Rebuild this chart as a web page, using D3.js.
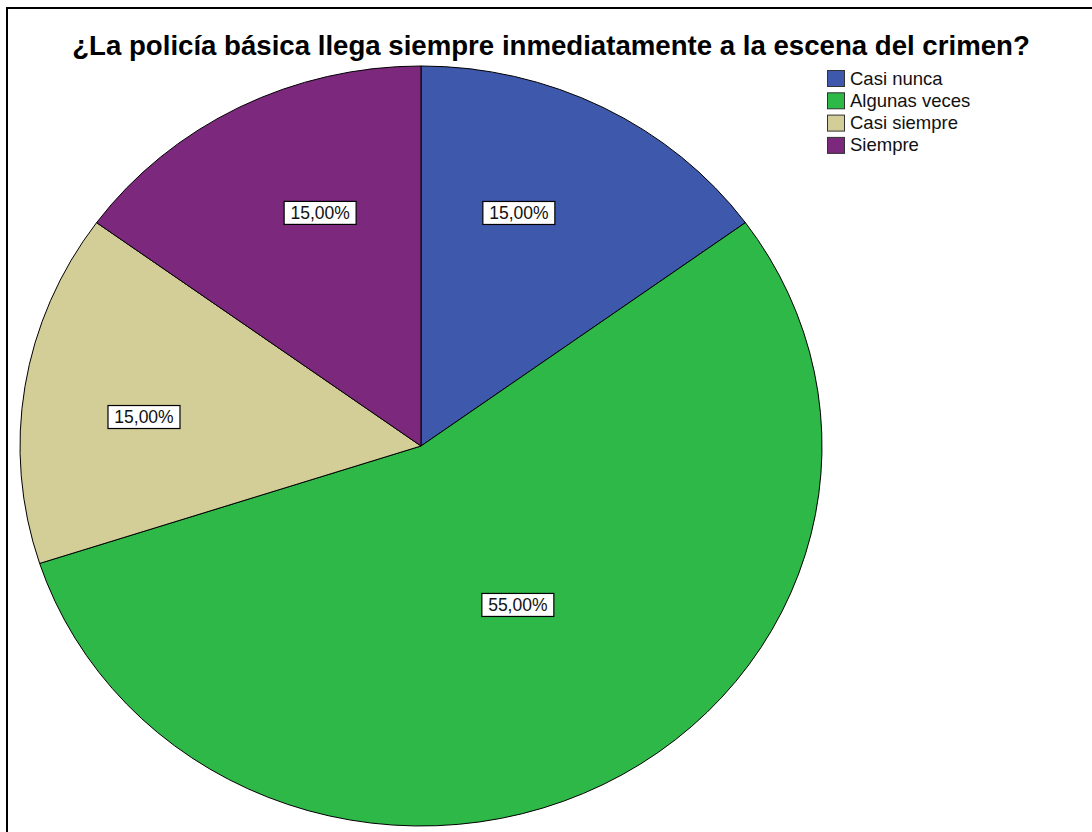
<!DOCTYPE html>
<html><head><meta charset="utf-8">
<script src="https://cdn.jsdelivr.net/npm/d3@7"></script>
<style>body{margin:0;background:#fff;} svg{display:block;}</style>
</head><body>
<svg id="chart" width="1092" height="832"></svg>
<script>
const title = "¿La policía básica llega siempre inmediatamente a la escena del crimen?";
const categories = ["Casi nunca", "Algunas veces", "Casi siempre", "Siempre"];
const values = [15, 55, 15, 15];
const labels = ["15,00%", "55,00%", "15,00%", "15,00%"];
const colors = ["#3E58AC", "#2EB848", "#D3CE97", "#7C287D"];

const svg = d3.select("#chart");
const W = 1092, H = 832;
const FONT = "Liberation Sans, Arial, sans-serif";

// frame
svg.append("line").attr("x1", 7).attr("y1", 8).attr("x2", W).attr("y2", 8).attr("stroke", "#000").attr("stroke-width", 2);
svg.append("line").attr("x1", 7).attr("y1", 7).attr("x2", 7).attr("y2", H).attr("stroke", "#000").attr("stroke-width", 2);

// title
const t = svg.append("text").attr("x", 551).attr("y", 55).attr("text-anchor", "middle")
  .attr("font-family", FONT).attr("font-weight", "bold")
  .attr("font-size", 20).attr("fill", "#000").text(title);
const tw = t.node().getComputedTextLength();
t.attr("font-size", 20 * 958 / tw);

// pie (elliptical)
const cx = 421, cy = 446, R = 380, sx = 401 / 380;
const pie = d3.pie().sort(null).value(d => d)(values);
const arc = d3.arc().innerRadius(0).outerRadius(R);
const g = svg.append("g").attr("transform", `translate(${cx},${cy}) scale(${sx},1)`);
g.selectAll("path").data(pie).join("path")
  .attr("d", arc).attr("fill", (d, i) => colors[i])
  .attr("stroke", "#000").attr("stroke-width", 1).attr("vector-effect", "non-scaling-stroke");

// label placement tweaks (radius fraction, angle offset in degrees)
const labelLayout = [[0.66, -5.3], [0.483, -3], [0.695, -2.7], [0.663, 4.7]];
const lg = svg.append("g").attr("transform", `translate(${cx},${cy})`);
pie.forEach((d, i) => {
  const [rf, off] = labelLayout[i];
  const a = (d.startAngle + d.endAngle) / 2 + off * Math.PI / 180;
  const lr = R * rf;
  const x = Math.sin(a) * lr * sx, y = -Math.cos(a) * lr;
  lg.append("rect").attr("x", x - 36).attr("y", y - 11.5).attr("width", 72).attr("height", 23)
    .attr("fill", "#fff").attr("stroke", "#000").attr("stroke-width", 1.2);
  lg.append("text").attr("x", x).attr("y", y + 6).attr("text-anchor", "middle")
    .attr("font-family", FONT).attr("font-size", 17.5)
    .attr("fill", "#111").text(labels[i]);
});

// legend
const leg = svg.append("g").attr("transform", "translate(827,70)");
categories.forEach((c, i) => {
  const row = leg.append("g").attr("transform", `translate(0,${i * 22.3})`);
  row.append("rect").attr("x", 0.5).attr("y", 0.5).attr("width", 17).attr("height", 16)
    .attr("fill", colors[i]).attr("stroke", "#333").attr("stroke-width", 1);
  row.append("text").attr("x", 23).attr("y", 14.5).attr("font-family", FONT)
    .attr("font-size", 18.5).attr("fill", "#111").text(c);
});
</script>
</body></html>
